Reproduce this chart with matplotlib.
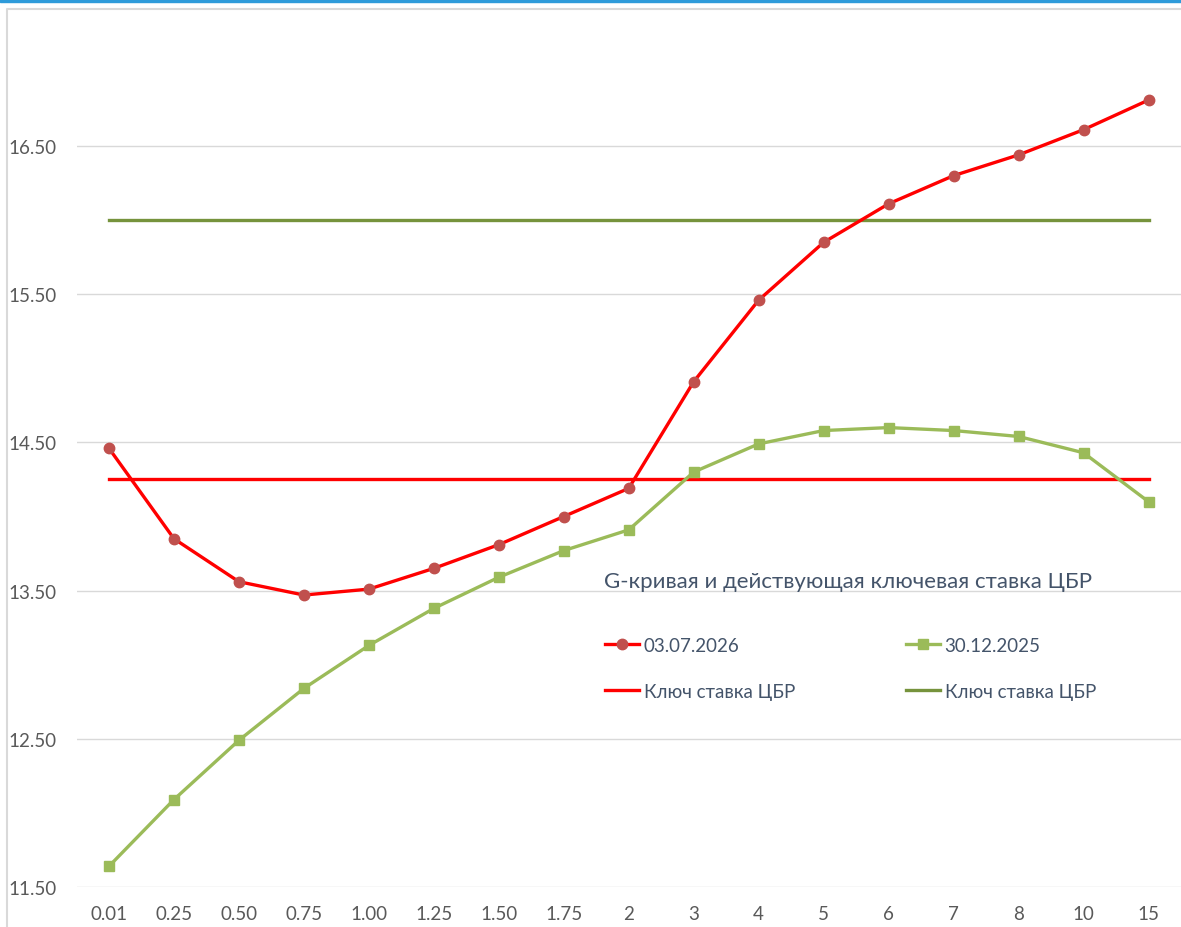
import matplotlib.pyplot as plt
from matplotlib.patches import Rectangle
from matplotlib.lines import Line2D

# categories (maturity, years) and yields
maturities = ["0.01", "0.25", "0.50", "0.75", "1.00", "1.25", "1.50", "1.75",
              "2", "3", "4", "5", "6", "7", "8", "10", "15"]
curve_2026 = [14.46, 13.85, 13.56, 13.47, 13.51, 13.65, 13.81, 14.00,
              14.19, 14.91, 15.46, 15.85, 16.11, 16.30, 16.44, 16.61, 16.81]
curve_2025 = [11.64, 12.09, 12.49, 12.84, 13.13, 13.38, 13.59, 13.77,
              13.91, 14.30, 14.49, 14.58, 14.60, 14.58, 14.54, 14.43, 14.10]
key_rate_2026 = 14.25
key_rate_2025 = 16.00
y_ticks = [11.5, 12.5, 13.5, 14.5, 15.5, 16.5]

plt.rcParams['font.family'] = ['Lato', 'DejaVu Sans']

fig = plt.figure(figsize=(11.81, 9.28), dpi=100)

# chart frame and top bar
fig.patches.append(Rectangle((0, 1 - 3 / 928), 1, 3 / 928, transform=fig.transFigure,
                             color="#2E9BDA", zorder=0))
fig.lines.append(Line2D([7 / 1181, 7 / 1181, 1], [0, 1 - 10 / 928, 1 - 10 / 928],
                        transform=fig.transFigure, color="#D9D9D9", lw=1.5))

ax = fig.add_axes([76.5 / 1181, 40 / 928, (1181 - 76.5) / 1181, 888 / 928])
ax.set_facecolor("none")

x = list(range(len(maturities)))
ax.plot(x, curve_2026, color="#FF0000", lw=2.4, marker="o", ms=7.5,
        mfc="#C0504D", mec="#C0504D", label="03.07.2026", zorder=4)
ax.plot(x, curve_2025, color="#9BBB59", lw=2.4, marker="s", ms=7,
        mfc="#9BBB59", mec="#9BBB59", label="30.12.2025", zorder=3)
ax.plot(x, [key_rate_2026] * len(x), color="#FF0000", lw=2.4,
        label="Ключ ставка ЦБР", zorder=2)
ax.plot(x, [key_rate_2025] * len(x), color="#76933C", lw=2.4,
        label="Ключ ставка ЦБР", zorder=2)

ax.set_xlim(-0.5, len(x) - 0.5)
ax.set_ylim(11.5, 11.5 + 888 / 148.2)
ax.set_xticks(x)
ax.set_xticklabels(maturities)
ax.set_yticks(y_ticks)
ax.set_yticklabels([f"{v:.2f}" for v in y_ticks])
ax.tick_params(axis="both", length=0, labelsize=13.5, colors="#595959")
ax.tick_params(axis="x", pad=13)
ax.tick_params(axis="y", pad=14.5)
ax.grid(axis="y", color="#D9D9D9", lw=1)
ax.set_axisbelow(True)
for s in ax.spines.values():
    s.set_visible(False)

ax.text(0.4776, 0.3446, "G-кривая и действующая ключевая ставка ЦБР",
        transform=ax.transAxes, fontsize=16, color="#44546A", va="center")

# order: row1 = 03.07.2026, 30.12.2025 ; row2 = key rates
h, l = ax.get_legend_handles_labels()
leg = ax.legend([h[0], h[2], h[1], h[3]], [l[0], l[2], l[1], l[3]], ncol=2,
                loc="upper left", bbox_to_anchor=(0.4785, 0.282), frameon=False,
                fontsize=13.5, handlelength=1.8, handletextpad=0.27,
                columnspacing=5.9, labelspacing=1.55, borderaxespad=0,
                borderpad=0)
for t in leg.get_texts():
    t.set_color("#44546A")

fig.savefig("out.png", dpi=100)
